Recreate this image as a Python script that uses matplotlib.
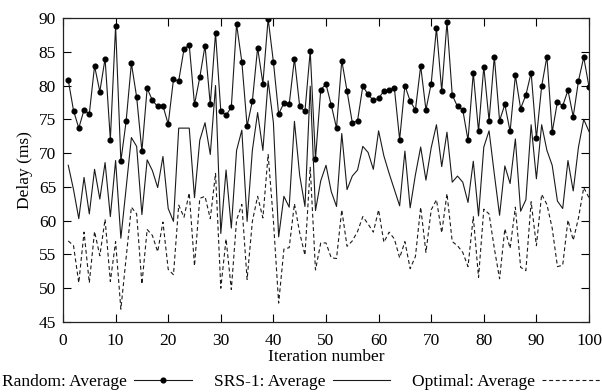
import matplotlib
matplotlib.use("Agg")
import matplotlib.pyplot as plt
import numpy as np

iterations = list(range(1, 101))

random_avg = [80.8, 76.3, 73.7, 76.4, 75.8, 82.9, 79.1, 84.0, 72.0, 88.8,
              68.8, 74.7, 83.3, 78.3, 70.3, 79.6, 77.8, 76.9, 77.0, 74.3,
              80.9, 80.7, 85.4, 86.0, 77.2, 81.2, 85.9, 77.2, 87.8, 76.2,
              75.6, 76.8, 89.1, 83.5, 74.0, 77.7, 85.6, 80.3, 89.9, 83.5,
              75.8, 77.4, 77.2, 84.0, 76.9, 76.2, 85.1, 69.1, 79.4, 80.2,
              77.1, 73.7, 83.7, 79.2, 74.5, 74.8, 79.9, 78.7, 77.8, 78.1,
              79.2, 79.3, 79.6, 72.0, 80.0, 77.7, 76.4, 82.9, 76.4, 80.3,
              88.5, 79.2, 89.4, 78.6, 76.9, 76.4, 71.9, 81.9, 73.2, 82.8,
              74.8, 84.3, 74.8, 77.2, 73.2, 81.5, 76.6, 78.6, 81.9, 72.2,
              79.9, 84.3, 73.1, 77.6, 77.0, 79.3, 75.4, 80.7, 84.2, 79.8]

srs_avg = [68.2, 64.6, 60.3, 66.4, 61.0, 67.6, 63.2, 68.6, 60.6, 68.9,
           57.4, 64.8, 72.3, 71.0, 60.9, 69.0, 67.4, 64.9, 69.5, 61.8,
           59.9, 73.7, 73.7, 73.7, 63.4, 71.9, 74.5, 69.8, 80.0, 58.1,
           67.5, 58.9, 70.4, 73.4, 59.9, 70.4, 76.0, 70.4, 80.7, 74.5,
           57.6, 63.6, 62.0, 74.7, 66.7, 62.1, 79.9, 61.5, 65.9, 68.2,
           64.3, 62.1, 72.9, 64.6, 66.6, 67.5, 71.0, 70.1, 67.6, 73.3,
           69.6, 67.0, 64.6, 62.2, 70.3, 61.9, 66.8, 70.9, 66.0, 70.8,
           74.2, 68.0, 73.1, 65.7, 66.6, 65.7, 62.7, 68.8, 60.7, 70.9,
           73.3, 66.9, 60.8, 68.1, 65.5, 72.1, 61.4, 63.1, 74.2, 66.2,
           74.2, 70.4, 68.2, 62.9, 61.8, 68.9, 64.4, 70.9, 75.0, 73.2]

optimal_avg = [57.0, 56.3, 50.8, 58.3, 50.8, 58.4, 54.8, 60.2, 51.0, 56.9,
               46.9, 54.5, 62.0, 61.0, 50.6, 58.7, 57.8, 55.4, 59.8, 52.8,
               52.0, 62.3, 60.5, 64.1, 53.3, 63.3, 63.6, 60.3, 67.0, 50.0,
               57.3, 49.8, 60.1, 62.4, 51.3, 59.9, 63.6, 60.4, 69.8, 60.0,
               47.8, 55.8, 56.0, 62.5, 58.2, 54.9, 67.9, 52.7, 56.7, 56.7,
               54.5, 54.4, 61.6, 56.2, 57.0, 58.4, 60.6, 59.5, 58.3, 61.6,
               56.8, 58.3, 57.3, 54.5, 56.9, 52.9, 54.7, 62.0, 55.3, 61.6,
               63.1, 58.2, 64.0, 56.9, 56.3, 55.3, 53.2, 60.6, 51.6, 61.7,
               61.0, 55.9, 51.4, 58.8, 55.9, 62.0, 53.1, 52.6, 62.8, 56.3,
               63.9, 62.4, 58.9, 53.2, 53.4, 60.1, 57.1, 60.4, 64.9, 63.4]

series_labels = ["Random: Average", "SRS-1: Average", "Optimal: Average"]
x_label = "Iteration number"
y_label = "Delay (ms)"

plt.rcParams['font.family'] = ['Liberation Serif', 'DejaVu Serif']
fs = 12.5
plt.rcParams['font.size'] = fs

fig = plt.figure(figsize=(6.02, 3.92), dpi=100)
ax = fig.add_axes([63/602, 1-322/392, (589-63)/602, (322-18)/392])

lc = '#1a1a1a'
ax.plot(iterations, random_avg, color=lc, lw=0.8, marker='o', ms=3.4,
        mfc='black', mec='black', label=series_labels[0])
ax.plot(iterations, srs_avg, color=lc, lw=0.8, label=series_labels[1])
ax.plot(iterations, optimal_avg, color=lc, lw=0.8, dashes=(3.5, 2.5),
        label=series_labels[2])

ax.set_xlim(0, 100)
ax.set_ylim(45, 90)
ax.set_xticks(np.arange(0, 101, 10))
ax.set_yticks(np.arange(45, 91, 5))
ax.tick_params(direction='in', top=True, right=True, length=6, width=0.8,
               labelsize=fs)
ax.tick_params(axis='x', pad=8)
ax.tick_params(axis='y', pad=5)
for s in ax.spines.values():
    s.set_linewidth(0.9)
    s.set_color('#222222')

ax.set_xlabel(x_label, fontsize=fs, labelpad=0)
ax.set_ylabel(y_label, fontsize=fs, labelpad=4)

fig.legend(loc='lower center', bbox_to_anchor=(0.5, -0.035), ncol=3,
           frameon=False, markerfirst=False, handlelength=3.3,
           columnspacing=1.3, handletextpad=0.4, fontsize=fs)

fig.savefig("out.png", dpi=100)
